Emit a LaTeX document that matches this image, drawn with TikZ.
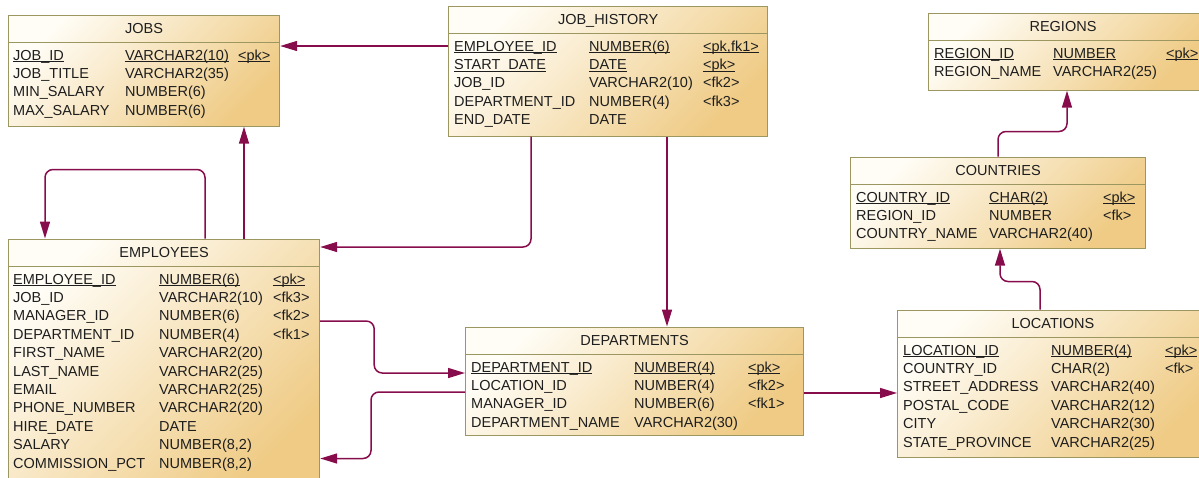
\documentclass[tikz,border=0pt]{standalone}
\usepackage{fontspec}
\setmainfont{Liberation Sans}
\usetikzlibrary{arrows.meta}

\definecolor{fkline}{HTML}{870C4C}
\definecolor{tblborder}{HTML}{9C9660}
\definecolor{tbllight}{HTML}{FFFDF6}
\definecolor{tbldark}{HTML}{EFCB85}
\definecolor{tbltext}{HTML}{1E1E1E}

\newcommand{\tblfont}{\fontsize{14.5}{17}\selectfont}
\newcommand{\keyul}[1]{\setbox0\hbox{#1}\rlap{\rule[-2pt]{\wd0}{0.8pt}}\box0}

\tikzset{
  tablebox/.style={rectangle, anchor=north west, inner sep=0pt, draw=tblborder, line width=1.2pt,
    top color=tbllight, bottom color=tbldark, shading angle=45},
  tblrule/.style={draw=tblborder, line width=1.2pt},
  tbltitle/.style={inner sep=0pt, text height=10pt, text depth=0pt, font=\tblfont, text=tbltext},
  tblcell/.style={tbltitle, anchor=west},
  fk/.style={draw=fkline, line width=1.5pt, rounded corners=8pt,
    -{Triangle[length=17pt,width=10pt]}},
}

\begin{document}
\begin{tikzpicture}[x=1pt, y=-1pt]
\useasboundingbox (0,0) rectangle (1199,477);
\clip (0,0) rectangle (1199,477);

% JOBS
\node[tablebox, minimum width=271pt, minimum height=111pt] (jobs) at (8,14.5) {};
\node[tbltitle] at ([yshift=-14pt]jobs.north) {JOBS};
\draw[tblrule] ([yshift=-28pt]jobs.north west) -- ([yshift=-28pt]jobs.north east);
\foreach \n/\t/\k [count=\i from 0] in {{\keyul{JOB\_ID}}/{\keyul{VARCHAR2(10)}}/{\keyul{<pk>}},
    JOB\_TITLE/VARCHAR2(35)/{}, MIN\_SALARY/NUMBER(6)/{}, MAX\_SALARY/NUMBER(6)/{}}
{
  \node[tblcell] (jobs-a\i) at (13,55+18.4*\i) {\n};
  \node[tblcell] (jobs-b\i) at (125,55+18.4*\i) {\t};
  \node[tblcell] (jobs-c\i) at (238,55+18.4*\i) {\k};
}

% JOB_HISTORY
\node[tablebox, minimum width=319pt, minimum height=130pt] (jh) at (448,5.5) {};
\node[tbltitle] at ([yshift=-14pt]jh.north) {JOB\_HISTORY};
\draw[tblrule] ([yshift=-28pt]jh.north west) -- ([yshift=-28pt]jh.north east);
\foreach \n/\t/\k [count=\i from 0] in {{\keyul{EMPLOYEE\_ID}}/{\keyul{NUMBER(6)}}/{\keyul{<pk,fk1>}},
    {\keyul{START\_DATE}}/{\keyul{DATE}}/{\keyul{<pk>}}, JOB\_ID/VARCHAR2(10)/{<fk2>},
    DEPARTMENT\_ID/NUMBER(4)/{<fk3>}, END\_DATE/DATE/{}}
{
  \node[tblcell] (jh-a\i) at (454,46+18.4*\i) {\n};
  \node[tblcell] (jh-b\i) at (589,46+18.4*\i) {\t};
  \node[tblcell] (jh-c\i) at (703,46+18.4*\i) {\k};
}

% REGIONS
\node[tablebox, minimum width=277pt, minimum height=77pt] (regions) at (928,12.5) {};
\node[tbltitle] at (1063,26.5) {REGIONS};
\draw[tblrule] ([yshift=-28pt]regions.north west) -- ([yshift=-28pt]regions.north east);
\foreach \n/\t/\k [count=\i from 0] in {{\keyul{REGION\_ID}}/{\keyul{NUMBER}}/{\keyul{<pk>}},
    REGION\_NAME/VARCHAR2(25)/{}}
{
  \node[tblcell] (regions-a\i) at (934,53+18.4*\i) {\n};
  \node[tblcell] (regions-b\i) at (1053,53+18.4*\i) {\t};
  \node[tblcell] (regions-c\i) at (1166,53+18.4*\i) {\k};
}

% COUNTRIES
\node[tablebox, minimum width=295pt, minimum height=91pt] (countries) at (850,156.5) {};
\node[tbltitle] at ([yshift=-14pt]countries.north) {COUNTRIES};
\draw[tblrule] ([yshift=-28pt]countries.north west) -- ([yshift=-28pt]countries.north east);
\foreach \n/\t/\k [count=\i from 0] in {{\keyul{COUNTRY\_ID}}/{\keyul{CHAR(2)}}/{\keyul{<pk>}},
    REGION\_ID/NUMBER/{<fk>}, COUNTRY\_NAME/VARCHAR2(40)/{}}
{
  \node[tblcell] (countries-a\i) at (856,197+18.4*\i) {\n};
  \node[tblcell] (countries-b\i) at (989,197+18.4*\i) {\t};
  \node[tblcell] (countries-c\i) at (1103,197+18.4*\i) {\k};
}

% EMPLOYEES
\node[tablebox, minimum width=311pt, minimum height=250pt] (emp) at (8,238.5) {};
\node[tbltitle] at ([yshift=-14pt]emp.north) {EMPLOYEES};
\draw[tblrule] ([yshift=-28pt]emp.north west) -- ([yshift=-28pt]emp.north east);
\foreach \n/\t/\k [count=\i from 0] in {{\keyul{EMPLOYEE\_ID}}/{\keyul{NUMBER(6)}}/{\keyul{<pk>}},
    JOB\_ID/VARCHAR2(10)/{<fk3>}, MANAGER\_ID/NUMBER(6)/{<fk2>}, DEPARTMENT\_ID/NUMBER(4)/{<fk1>},
    FIRST\_NAME/VARCHAR2(20)/{}, LAST\_NAME/VARCHAR2(25)/{}, EMAIL/VARCHAR2(25)/{},
    PHONE\_NUMBER/VARCHAR2(20)/{}, HIRE\_DATE/DATE/{}, SALARY/{NUMBER(8,2)}/{},
    COMMISSION\_PCT/{NUMBER(8,2)}/{}}
{
  \node[tblcell] (emp-a\i) at (13,279+18.4*\i) {\n};
  \node[tblcell] (emp-b\i) at (159,279+18.4*\i) {\t};
  \node[tblcell] (emp-c\i) at (273,279+18.4*\i) {\k};
}

% DEPARTMENTS
\node[tablebox, minimum width=338pt, minimum height=108pt] (dept) at (465,326.5) {};
\node[tbltitle] at ([yshift=-14pt]dept.north) {DEPARTMENTS};
\draw[tblrule] ([yshift=-28pt]dept.north west) -- ([yshift=-28pt]dept.north east);
\foreach \n/\t/\k [count=\i from 0] in {{\keyul{DEPARTMENT\_ID}}/{\keyul{NUMBER(4)}}/{\keyul{<pk>}},
    LOCATION\_ID/NUMBER(4)/{<fk2>}, MANAGER\_ID/NUMBER(6)/{<fk1>}, DEPARTMENT\_NAME/VARCHAR2(30)/{}}
{
  \node[tblcell] (dept-a\i) at (471,367+18.4*\i) {\n};
  \node[tblcell] (dept-b\i) at (634,367+18.4*\i) {\t};
  \node[tblcell] (dept-c\i) at (748,367+18.4*\i) {\k};
}

% LOCATIONS
\node[tablebox, minimum width=313pt, minimum height=147pt] (loc) at (897,309.5) {};
\node[tbltitle] at (1053,323.5) {LOCATIONS};
\draw[tblrule] ([yshift=-28pt]loc.north west) -- ([yshift=-28pt]loc.north east);
\foreach \n/\t/\k [count=\i from 0] in {{\keyul{LOCATION\_ID}}/{\keyul{NUMBER(4)}}/{\keyul{<pk>}},
    COUNTRY\_ID/CHAR(2)/{<fk>}, STREET\_ADDRESS/VARCHAR2(40)/{}, POSTAL\_CODE/VARCHAR2(12)/{},
    CITY/VARCHAR2(30)/{}, STATE\_PROVINCE/VARCHAR2(25)/{}}
{
  \node[tblcell] (loc-a\i) at (903,350+18.4*\i) {\n};
  \node[tblcell] (loc-b\i) at (1051,350+18.4*\i) {\t};
  \node[tblcell] (loc-c\i) at (1165,350+18.4*\i) {\k};
}

% references
\coordinate (emp-jobs) at ([xshift=236pt]emp.north west);
\coordinate (emp-mgr-out) at ([xshift=197pt]emp.north west);
\coordinate (emp-mgr-in) at ([xshift=37pt]emp.north west);
\coordinate (jh-emp) at ([xshift=83pt]jh.south west);
\coordinate (jh-dept) at ([xshift=219pt]jh.south west);
\coordinate (dept-loc) at ([yshift=-66.5pt]dept.north east);
\coordinate (loc-cty) at ([xshift=143pt]loc.north west);
\coordinate (cty-reg) at ([xshift=148pt]countries.north west);

\draw[fk] (jh.west |- jh-a0) -- (jobs.east |- jh-a0);
\draw[fk] (emp-jobs) -- (emp-jobs |- jobs.south);
\draw[fk] (emp-mgr-out) -- ++(0,-69) -| (emp-mgr-in);
\draw[fk] (jh-emp) |- ([yshift=-8.5pt]emp.north east);
\draw[fk] (jh-dept) -- (jh-dept |- dept.north);
\draw[fk] ([yshift=-82.5pt]emp.north east) -- ++(54,0) |- ([yshift=-46.5pt]dept.north west);
\draw[fk] ([yshift=-65.5pt]dept.north west) -- ++(-94,0) |- ([yshift=-220pt]emp.north east);
\draw[fk] (dept-loc) -- (dept-loc -| loc.west);
\draw[fk] (loc-cty) -- ++(0,-28) -| ([xshift=150pt]countries.south west);
\draw[fk] (cty-reg) -- ++(0,-25) -| ([xshift=139pt]regions.south west);
\end{tikzpicture}
\end{document}
